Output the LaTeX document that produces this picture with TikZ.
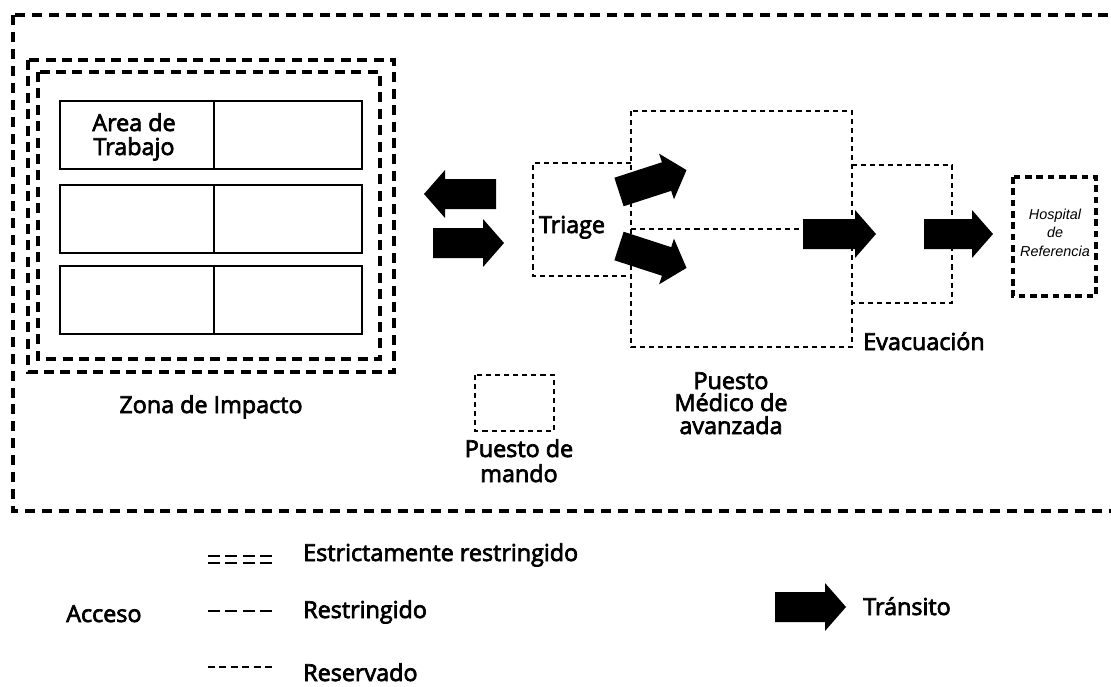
\documentclass[tikz,border=0pt]{standalone}
\usepackage{fontspec}
\setmainfont{Open Sans}
\newfontfamily\lblfont{Open Sans}[FakeBold=3]
\newfontfamily\hospfont{Liberation Sans}
\newcommand\transarrow[3]{\fill[shift={(#1)},rotate=#2] (0,-15) -- ({#3-21},-15) -- ({#3-21},-24) -- (#3,0) -- ({#3-21},24) -- ({#3-21},15) -- (0,15) -- cycle;}
\begin{document}
\begin{tikzpicture}[x=0.75pt,y=-0.75pt,
 strict/.style={line width=2.4pt, dash pattern=on 7.5pt off 4.8pt},
 restr/.style={line width=2.3pt, dash pattern=on 7.5pt off 5.2pt},
 reserv/.style={line width=1.3pt, dash pattern=on 3.8pt off 3pt},
 hosp/.style={line width=2.6pt, dash pattern=on 5pt off 3.5pt},
 work/.style={line width=2pt},
 lbl/.style={inner sep=0pt, font=\fontsize{17.5pt}{19pt}\lblfont},
 hlbl/.style={inner sep=0pt, font=\fontsize{10.8pt}{12pt}\hospfont\itshape},
]
\useasboundingbox (0,0) rectangle (1111,686);
% outer restricted area
\draw[restr] (13,15) rectangle (1140,511);
% zona de impacto
\draw[strict] (28,60) rectangle (394,372);
\draw[strict] (38,72) rectangle (380,359);
\foreach \ya/\yb in {101/169,185/253,266/334}{
  \draw[work] (60,\ya) rectangle (362,\yb);
  \draw[work] (214,\ya) -- (214,\yb);
}
\node[lbl,anchor=base] (area1) at (134,131) {Area de};
\node[lbl,anchor=base] (area2) at (134,155) {Trabajo};
\node[lbl,anchor=base] (zona) at (211,413) {Zona de Impacto};
% triage
\draw[reserv] (631,163) -- (533,163) -- (533,276) -- (631,276);
\node[lbl,anchor=base] (triage) at (572,233) {Triage};
% puesto medico de avanzada
\draw[reserv] (631,111) rectangle (852,347);
\draw[reserv] (631,229) -- (852,229);
\node[lbl,anchor=base] (pma1) at (731,389) {Puesto};
\node[lbl,anchor=base] (pma2) at (731,411) {Médico de};
\node[lbl,anchor=base] (pma3) at (731,434) {avanzada};
% evacuacion
\draw[reserv] (852,165) -- (952,165) -- (952,303) -- (852,303);
\node[lbl,anchor=base west] (evac) at (863,350) {Evacuación};
% hospital
\draw[hosp] (1013,177) rectangle (1096,296);
\node[hlbl,anchor=base] (h1) at (1055,219) {Hospital};
\node[hlbl,anchor=base] (h2) at (1055,237) {de};
\node[hlbl,anchor=base] (h3) at (1055,256) {Referencia};
% puesto de mando
\draw[reserv] (475,375) rectangle (554,431);
\node[lbl,anchor=base] (pm1) at (519,457) {Puesto de};
\node[lbl,anchor=base] (pm2) at (519,482) {mando};
% transit arrows
\transarrow{496,194}{180}{72}
\transarrow{433,243}{0}{71}
\transarrow{619,192}{18}{71}
\transarrow{619,246}{-18}{71}
\transarrow{803,234}{0}{73}
\transarrow{924,234}{0}{69}
% legend
\draw[line width=2.2pt, dash pattern=on 9pt off 4.1pt] (208,556) -- (272,556);
\draw[line width=2.2pt, dash pattern=on 9pt off 4.1pt] (208,563) -- (272,563);
\draw[line width=2.2pt, dash pattern=on 9pt off 4.1pt] (208,611) -- (272,611);
\draw[line width=1.2pt, dash pattern=on 5.25pt off 3.3pt] (208,667) -- (272,667);
\node[lbl,anchor=base west] (l1) at (303,561) {Estrictamente restringido};
\node[lbl,anchor=base west] (l2) at (303,618) {Restringido};
\node[lbl,anchor=base west] (l3) at (303,681) {Reservado};
\node[lbl,anchor=base west] (acceso) at (66,622) {Acceso};
\transarrow{775,607}{0}{71}
\node[lbl,anchor=base west] (transito) at (863,615) {Tránsito};
\end{tikzpicture}
\end{document}
